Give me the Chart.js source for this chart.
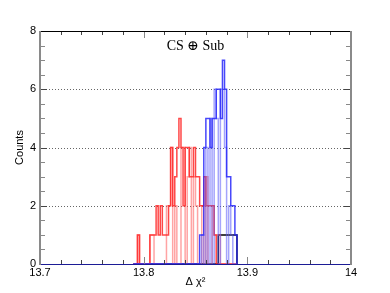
<!DOCTYPE html>
<html>
<head>
<meta charset="utf-8">
<script src="https://cdn.jsdelivr.net/npm/chart.js@4/dist/chart.umd.min.js"></script>
<style>
    html, body { margin: 0; padding: 0; background: #fff; }
    #wrap { width: 390px; height: 293px; }
</style>
</head>
<body>
<div id="wrap"><canvas id="myChart"></canvas></div>
<script>
// Histogram bins (left edges start at binStart, 50 bins)
const binStart = 13.79;
const binWidth = 0.002;

// Counts per bin
const redDark = [0, 0, 1, 0, 0, 0, 0, 0, 1, 1, 1, 2, 1, 2, 1, 1, 1, 2, 4, 2,
    3, 4, 5, 4, 2, 4, 4, 3, 3, 4, 3, 3, 2, 2, 3, 2, 2, 2, 2, 1,
    0, 0, 0, 0, 0, 0, 0, 0, 0, 0];
const redLight = [0, 0, 1, 0, 0, 0, 0, 0, 1, 1, 0, 0, 0, 0, 0, 0, 2, 2, 4, 0,
    2, 0, 0, 4, 4, 0, 3, 4, 0, 3, 2, 0, 0, 2, 0, 3, 0, 0, 2, 1,
    1, 1, 0, 0, 0, 0, 0, 0, 0, 0];
const blueDark = [0, 0, 0, 0, 0, 0, 0, 0, 0, 0, 0, 0, 0, 0, 0, 0, 0, 0, 0, 0,
    0, 0, 0, 0, 0, 0, 0, 0, 0, 0, 0, 0, 1, 1, 4, 5, 5, 4, 5, 5,
    6, 6, 5, 7, 6, 3, 3, 2, 2, 1];
const blueLight = [0, 0, 0, 0, 0, 0, 0, 0, 0, 0, 0, 0, 0, 0, 0, 0, 0, 0, 0, 0,
    0, 0, 0, 0, 0, 0, 0, 0, 0, 0, 0, 0, 0, 1, 0, 4, 0, 5, 0, 6,
    5, 0, 6, 6, 4, 0, 2, 1, 0, 0];
const black = [0, 0, 0, 0, 0, 0, 0, 0, 0, 0, 0, 0, 0, 0, 0, 0, 0, 0, 0, 0,
    0, 0, 0, 0, 0, 0, 0, 0, 0, 0, 0, 0, 0, 0, 0, 0, 0, 0, 0, 0,
    0, 1, 1, 1, 1, 1, 1, 1, 1, 1];

const xTicks = [13.7, 13.8, 13.9, 14];
const yTicks = [0, 2, 4, 6, 8];
const gridValues = [2, 4, 6];
const titleText = "CS \u2295 Sub";

// Turn counts into step outline points
const histPoints = function (counts) {
    const pts = [{ x: binStart, y: 0 }];
    counts.forEach((c, i) => pts.push({ x: binStart + i * binWidth, y: c }));
    pts.push({ x: binStart + counts.length * binWidth, y: 0 });
    return pts;
};

const histSet = function (counts, color) {
    return {
        data: histPoints(counts),
        borderColor: color,
        borderWidth: 1.5,
        stepped: "before",
        pointRadius: 0,
        fill: false,
    };
};

// Dotted grid, inner ticks, frame and title
const frameTicks = {
    id: "frameTicks",
    beforeDatasetsDraw(chart) {
        const { ctx, chartArea: a, scales: { y } } = chart;
        ctx.save();
        ctx.strokeStyle = "#666";
        ctx.lineWidth = 1;
        ctx.setLineDash([1, 2]);
        gridValues.forEach((v) => {
            const py = Math.round(y.getPixelForValue(v)) + 0.5;
            ctx.beginPath();
            ctx.moveTo(a.left, py);
            ctx.lineTo(a.right, py);
            ctx.stroke();
        });
        ctx.restore();
    },
    afterDraw(chart) {
        const { ctx, chartArea: a, scales: { x, y } } = chart;
        const line = (x1, y1, x2, y2) => {
            ctx.beginPath();
            ctx.moveTo(x1, y1);
            ctx.lineTo(x2, y2);
            ctx.stroke();
        };
        ctx.save();
        ctx.lineWidth = 1;
        for (let i = 1; i < 15; i++) {
            const px = Math.round(x.getPixelForValue(13.7 + i * 0.02)) + 0.5;
            const major = i % 5 === 0;
            ctx.strokeStyle = major ? "#888" : "#444";
            const len = major ? 7 : 4;
            line(px, a.bottom, px, a.bottom - len);
            line(px, a.top, px, a.top + len);
        }
        for (let i = 1; i < 16; i++) {
            const py = Math.round(y.getPixelForValue(i * 0.5)) + 0.5;
            const major = i % 4 === 0;
            ctx.strokeStyle = major ? "#444" : "#888";
            const len = major ? 7 : 5;
            line(a.left, py, a.left + len, py);
            line(a.right, py, a.right - len, py);
        }
        // frame
        ctx.strokeStyle = "#000";
        line(a.left, a.top + 0.5, a.right, a.top + 0.5);
        ctx.strokeStyle = "#1c1c96";
        line(a.left, a.bottom + 0.5, a.right, a.bottom + 0.5);
        ctx.strokeStyle = "#8a8a8a";
        ctx.lineWidth = 2;
        line(a.left, a.top, a.left, a.bottom + 1);
        line(a.right, a.top, a.right, a.bottom + 1);
        // title
        ctx.fillStyle = "#000";
        ctx.font = "14px 'Liberation Serif', 'DejaVu Serif', serif";
        ctx.textAlign = "center";
        ctx.textBaseline = "middle";
        ctx.fillText(titleText, (a.left + a.right) / 2, 46);
        ctx.restore();
    },
};

Chart.defaults.font.family = "'Liberation Sans', Arial, sans-serif";
Chart.defaults.font.size = 11;
Chart.defaults.color = "#000";

const ctx = document.getElementById("myChart");

new Chart(ctx, {
    type: "line",
    data: {
        datasets: [
            histSet(blueDark, "rgba(40, 40, 250, 0.85)"),
            histSet(blueLight, "rgba(90, 90, 250, 0.55)"),
            histSet(redDark, "rgba(255, 40, 40, 0.85)"),
            histSet(redLight, "rgba(255, 90, 90, 0.55)"),
            histSet(black, "#000"),
        ],
    },
    options: {
        responsive: true,
        maintainAspectRatio: false,
        animation: false,
        layout: { padding: { left: 0, right: 39, top: 31, bottom: 0 } },
        plugins: {
            legend: { display: false },
            tooltip: { enabled: false },
        },
        scales: {
            x: {
                type: "linear",
                min: 13.7,
                max: 14,
                afterBuildTicks: (s) => { s.ticks = xTicks.map((v) => ({ value: v })); },
                afterFit: (s) => { s.height = 29; },
                grid: { display: false, drawTicks: false },
                border: { display: false },
                ticks: {
                    padding: 2,
                    maxRotation: 0,
                    autoSkip: false,
                    callback: (v) => String(+v.toFixed(1)),
                },
                title: {
                    display: true,
                    text: "\u0394 \u03c7\u00b2",
                    padding: { top: 0, bottom: 4 },
                },
            },
            y: {
                min: 0,
                max: 8,
                afterBuildTicks: (s) => { s.ticks = yTicks.map((v) => ({ value: v })); },
                afterFit: (s) => { s.width = 40; },
                grid: { display: false, drawTicks: false },
                border: { display: false },
                ticks: { padding: 4 },
                title: {
                    display: true,
                    text: "Counts",
                    padding: { top: 13, bottom: 0 },
                },
            },
        },
    },
    plugins: [frameTicks],
});
</script>
</body>
</html>
